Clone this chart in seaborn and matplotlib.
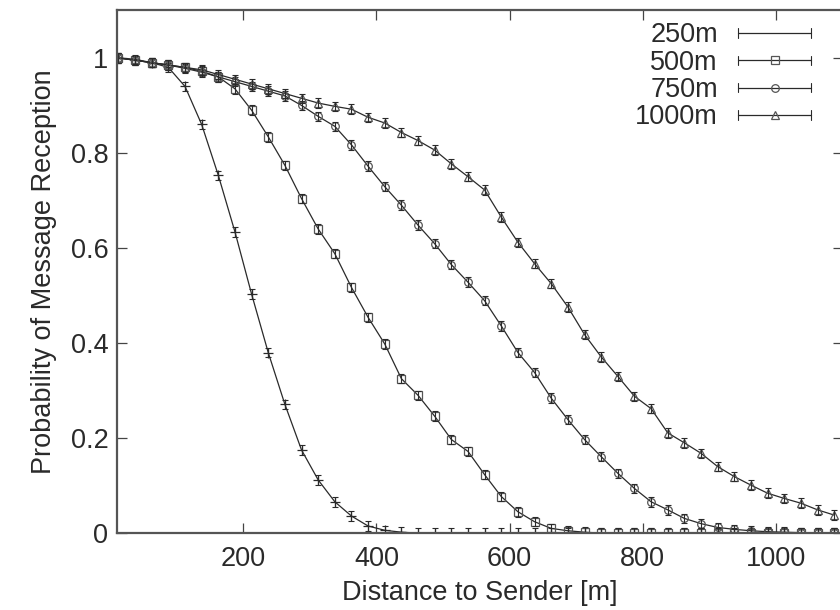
import matplotlib

matplotlib.use("Agg")
import matplotlib.pyplot as plt
import seaborn as sns
from matplotlib.legend_handler import HandlerLine2D
from matplotlib.lines import Line2D

# distance bins (bin centres, m)
distance = [12.5, 37.5, 62.5, 87.5, 112.5, 137.5, 162.5, 187.5, 212.5, 237.5, 262.5,
            287.5, 312.5, 337.5, 362.5, 387.5, 412.5, 437.5, 462.5, 487.5, 512.5, 537.5,
            562.5, 587.5, 612.5, 637.5, 662.5, 687.5, 712.5, 737.5, 762.5, 787.5, 812.5,
            837.5, 862.5, 887.5, 912.5, 937.5, 962.5, 987.5, 1012.5, 1037.5, 1062.5, 1087.5]

p_250 = [1.0, 0.995, 0.99, 0.98, 0.94, 0.86, 0.753, 0.634, 0.503, 0.38, 0.271,
         0.175, 0.112, 0.066, 0.036, 0.015, 0.006, 0.002, 0, 0, 0, 0,
         0, 0, 0, 0, 0, 0, 0, 0, 0, 0, 0,
         0, 0, 0, 0, 0, 0, 0, 0, 0, 0, 0]
p_500 = [1.0, 0.995, 0.99, 0.985, 0.98, 0.972, 0.96, 0.935, 0.89, 0.834, 0.774,
         0.704, 0.64, 0.588, 0.517, 0.454, 0.398, 0.325, 0.29, 0.246, 0.197, 0.172,
         0.123, 0.077, 0.045, 0.024, 0.01, 0.005, 0.002, 0, 0, 0, 0,
         0, 0, 0, 0, 0, 0, 0, 0, 0, 0, 0]
p_750 = [1.0, 0.995, 0.99, 0.985, 0.978, 0.97, 0.96, 0.95, 0.94, 0.93, 0.92,
         0.9, 0.877, 0.856, 0.817, 0.772, 0.729, 0.69, 0.648, 0.609, 0.565, 0.528,
         0.489, 0.436, 0.38, 0.338, 0.284, 0.239, 0.197, 0.161, 0.126, 0.094, 0.066,
         0.049, 0.031, 0.02, 0.012, 0.008, 0.005, 0.003, 0.002, 0.001, 0.001, 0.0]
p_1000 = [1.0, 0.997, 0.99, 0.985, 0.98, 0.975, 0.965, 0.955, 0.945, 0.935, 0.925,
          0.915, 0.905, 0.898, 0.892, 0.875, 0.863, 0.843, 0.826, 0.806, 0.777, 0.75,
          0.722, 0.665, 0.612, 0.567, 0.525, 0.476, 0.418, 0.371, 0.33, 0.288, 0.262,
          0.211, 0.19, 0.168, 0.14, 0.119, 0.101, 0.084, 0.073, 0.063, 0.049, 0.038]

series_names = ["250m", "500m", "750m", "1000m"]
series_values = [p_250, p_500, p_750, p_1000]
series_err = [0.01, 0.01, 0.01, 0.01]
series_markers = ["+", "s", "o", "^"]

x_ticks = [200, 400, 600, 800, 1000]
y_ticks = [0, 0.2, 0.4, 0.6, 0.8, 1.0]
y_ticklabels = ["0", "0.2", "0.4", "0.6", "0.8", "1"]

sns.set_style("ticks")
plt.rcParams["font.family"] = ["Liberation Sans", "DejaVu Sans"]

LINE = "#2a2a2a"
MARK = "#555555"
TEXT = "#2a2a2a"
FS = 19.5

fig = plt.figure(figsize=(8.4, 6.1), dpi=100)
ax = fig.add_axes([0.139, 0.126, 0.864, 0.857])

for name, vals, err, mk in zip(series_names, series_values, series_err, series_markers):
    sns.lineplot(x=distance, y=vals, color=LINE, linewidth=0.9, marker=mk,
                 markersize=5.5 if mk != "+" else 7.5, markerfacecolor="none",
                 markeredgecolor=MARK if mk != "+" else LINE, markeredgewidth=0.9,
                 ax=ax)
    ax.errorbar(distance, vals, yerr=err, fmt="none", ecolor=LINE,
                elinewidth=0.8, capsize=2.5, capthick=0.8)

ax.set_xlim(10, 1100)
ax.set_ylim(0, 1.1)
ax.set_xticks(x_ticks)
ax.set_yticks(y_ticks)
ax.set_yticklabels(y_ticklabels)
ax.tick_params(direction="in", length=7, width=0.9, color="#444444", labelsize=FS,
               labelcolor=TEXT, top=True, right=True)
ax.tick_params(axis="x", pad=9)
ax.tick_params(axis="y", pad=6)
for spine in ax.spines.values():
    spine.set_visible(True)
    spine.set_color("#555555")
    spine.set_linewidth(1.6)

ax.set_xlabel("Distance to Sender [m]", fontsize=FS, color=TEXT, labelpad=6)
ax.set_ylabel("Probability of Message Reception", fontsize=FS, color=TEXT,
              labelpad=10)


class CappedLine(HandlerLine2D):
    """gnuplot style key sample: line with error caps at both ends."""

    def create_artists(self, legend, orig_handle, xdescent, ydescent, width, height,
                       fontsize, trans):
        artists = super().create_artists(legend, orig_handle, xdescent, ydescent,
                                         width, height, fontsize, trans)
        y = height / 2 - ydescent
        h = height * 0.25
        for x in (-xdescent, width - xdescent):
            artists.append(Line2D([x, x], [y - h, y + h], color=LINE, lw=0.8,
                                  transform=trans))
        return artists


handles = [
    Line2D([], [], color=LINE, lw=0.9, marker=m if m != "+" else None, markersize=5.5,
           markerfacecolor="none", markeredgecolor=MARK, markeredgewidth=0.9)
    for m in series_markers
]
leg = ax.legend(handles, series_names, loc="upper right", bbox_to_anchor=(0.957, 0.977),
                frameon=False, markerfirst=False, numpoints=1, fontsize=FS,
                handlelength=2.7, handletextpad=0.75, labelspacing=0.05,
                borderpad=0, borderaxespad=0,
                handler_map={Line2D: CappedLine()})
for t in leg.get_texts():
    t.set_color(TEXT)

fig.savefig("out.png", dpi=100)
plt.close(fig)
